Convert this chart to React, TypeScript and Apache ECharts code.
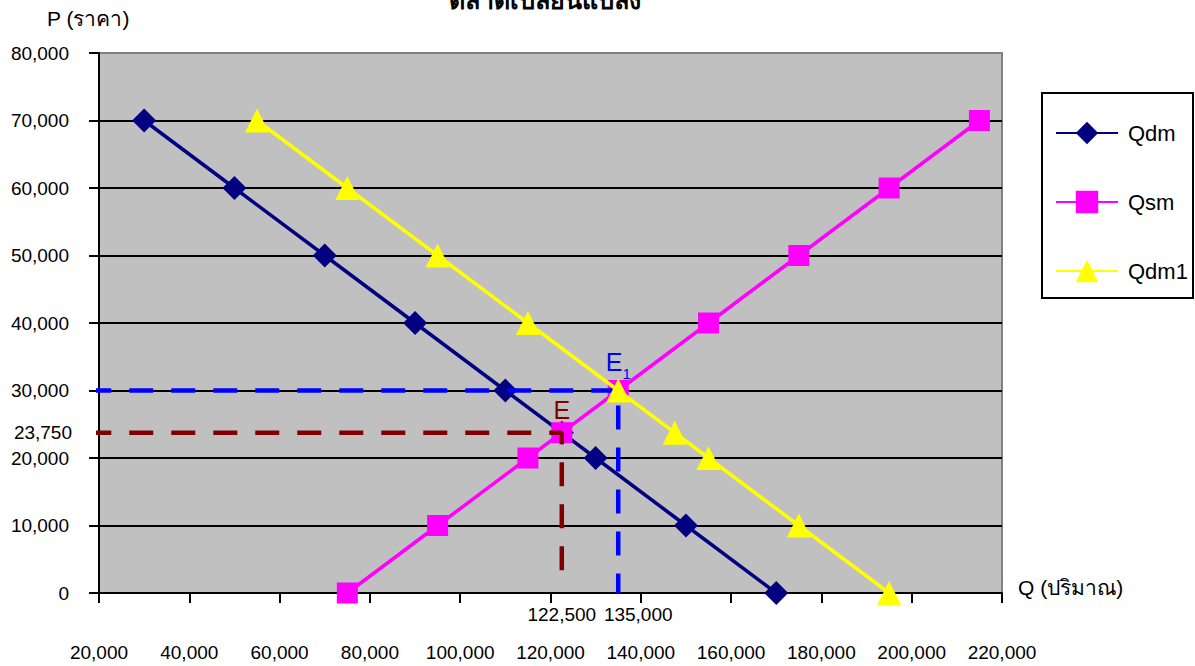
import React, { useEffect, useRef } from "react";
import * as echarts from "echarts";

// Price levels (P) shared by all three schedules
const prices = [70000, 60000, 50000, 40000, 30000, 23750, 20000, 10000, 0];
// Quantities (Q) for each series at those price levels
const qdm = [30000, 50000, 70000, 90000, 110000, 122500, 130000, 150000, 170000];
const qsm = [215000, 195000, 175000, 155000, 135000, 122500, 115000, 95000, 75000];
const qdm1 = [55000, 75000, 95000, 115000, 135000, 147500, 155000, 175000, 195000];

// Equilibria
const eqNames = ["E", "E1"];
const eqQ = [122500, 135000];
const eqP = [23750, 30000];

// Guide lines start just left of the value axis (in data space)
const guideStartQ = 17400;
const redGuideEndP = 1200;

const xMin = 20000;
const xMax = 220000;
const xStep = 20000;
const yMin = 0;
const yMax = 80000;
const yStep = 10000;

const titleText = "ตลาดเปลี่ยนแปลง";
const yName = "P (ราคา)";
const xName = "Q (ปริมาณ)";

const FONT = "'Liberation Sans', Arial, 'Noto Sans', 'DejaVu Sans', sans-serif";
const fmt = (v: number) => v.toLocaleString("en-US");

export default function App() {
  const ref = useRef<HTMLDivElement>(null);

  useEffect(() => {
    if (!ref.current) return;
    const chart = echarts.init(ref.current, null, { renderer: "svg" });

    const pair = (qs: number[]) => qs.map((q, i) => [q, prices[i]]);
    const splitColors: string[] = [];
    const nLines = Math.round((yMax - yMin) / yStep) + 1;
    for (let i = 0; i < nLines; i++) splitColors.push(i === nLines - 1 ? "#808080" : "#000000");

    const labelStyle = { fontSize: 19, color: "#000", fontFamily: FONT };

    const option: any = {
      animation: false,
      textStyle: { fontFamily: FONT },
      grid: {
        left: 99,
        right: 193,
        top: 53,
        bottom: 73,
        show: true,
        backgroundColor: "#C0C0C0",
        borderColor: "#808080",
        borderWidth: 2,
      },
      legend: {
        data: ["Qdm", "Qsm", "Qdm1"],
        orient: "vertical",
        left: 1055,
        top: 119,
        padding: 0,
        itemWidth: 62,
        itemHeight: 28,
        itemGap: 41,
        textStyle: { fontSize: 22, color: "#000", fontFamily: FONT, padding: [0, 0, 0, 5], lineHeight: 28 },
      },
      xAxis: {
        type: "value",
        min: xMin,
        max: xMax,
        interval: xStep,
        axisLine: { show: true, onZero: false, lineStyle: { color: "#000", width: 2 } },
        axisTick: { show: true, length: 10, lineStyle: { color: "#000", width: 2 } },
        axisLabel: { margin: 50, ...labelStyle, formatter: fmt },
        splitLine: { show: false },
      },
      yAxis: {
        type: "value",
        min: yMin,
        max: yMax,
        interval: yStep,
        axisLine: { show: true, lineStyle: { color: "#000", width: 2 } },
        axisTick: { show: true, length: 10, lineStyle: { color: "#000", width: 2 } },
        axisLabel: { margin: 30, ...labelStyle, formatter: fmt },
        splitLine: { show: true, lineStyle: { color: splitColors, width: 2 } },
      },
      graphic: [
        {
          type: "rect",
          shape: { x: 1042, y: 93, width: 151, height: 205 },
          style: { fill: "#fff", stroke: "#000", lineWidth: 2 },
          z: 1,
        },
        {
          type: "text",
          x: 545,
          y: 12,
          style: {
            text: titleText,
            fontSize: 25,
            fontWeight: "bold",
            fill: "#000",
            align: "center",
            verticalAlign: "bottom",
            fontFamily: FONT,
          },
        },
        {
          type: "text",
          x: 47,
          y: 18,
          style: { text: yName, fontSize: 21, fill: "#000", verticalAlign: "middle", fontFamily: FONT },
        },
        {
          type: "text",
          x: 1018,
          y: 587,
          style: { text: xName, fontSize: 21, fill: "#000", verticalAlign: "middle", fontFamily: FONT },
        },
      ],
      series: [
        {
          name: "Qdm",
          type: "line",
          data: pair(qdm),
          symbol: "diamond",
          symbolSize: 24,
          lineStyle: { color: "#000080", width: 3.5 },
          itemStyle: { color: "#000080" },
          z: 2,
        },
        {
          name: "Qsm",
          type: "line",
          data: pair(qsm),
          symbol: "rect",
          symbolSize: 21,
          lineStyle: { color: "#FF00FF", width: 3.5 },
          itemStyle: { color: "#FF00FF" },
          z: 3,
        },
        {
          name: "guideE1",
          type: "line",
          data: [
            [guideStartQ, eqP[1]],
            [eqQ[1], eqP[1]],
            [eqQ[1], yMin],
          ],
          symbol: "none",
          clip: false,
          lineStyle: { color: "#0000FF", width: 4.5, type: [24, 18] },
          z: 4,
          silent: true,
        },
        {
          name: "guideE",
          type: "line",
          data: [
            [guideStartQ, eqP[0]],
            [eqQ[0], eqP[0]],
            [eqQ[0], redGuideEndP],
          ],
          symbol: "none",
          clip: false,
          lineStyle: { color: "#800000", width: 4.5, type: [24, 18] },
          z: 4,
          silent: true,
        },
        {
          name: "Qdm1",
          type: "line",
          data: pair(qdm1),
          symbol: "triangle",
          symbolSize: 24,
          lineStyle: { color: "#FFFF00", width: 3.5 },
          itemStyle: { color: "#FFFF00" },
          z: 5,
        },
        {
          name: "eqLabels",
          type: "scatter",
          symbolSize: 0,
          clip: false,
          silent: true,
          itemStyle: { opacity: 1 },
          z: 6,
          data: [
            {
              value: [eqQ[0], eqP[0]],
              label: {
                show: true,
                position: "top",
                distance: 10,
                formatter: eqNames[0],
                fontSize: 25,
                color: "#800000",
                fontFamily: FONT,
              },
            },
            {
              value: [eqQ[1], eqP[1]],
              label: {
                show: true,
                position: "top",
                distance: 16,
                formatter: "{a|E}{s|1}",
                fontFamily: FONT,
                rich: {
                  a: { fontSize: 25, color: "#0000FF", fontFamily: FONT, lineHeight: 26 },
                  s: { fontSize: 15, color: "#0000FF", fontFamily: FONT, verticalAlign: "bottom", lineHeight: 14, padding: [0, 0, -6, 0] },
                },
              },
            },
          ],
        },
        {
          name: "axisExtra",
          type: "scatter",
          symbolSize: 0,
          clip: false,
          silent: true,
          itemStyle: { opacity: 1 },
          z: 6,
          data: [
            {
              value: [eqQ[0], yMin],
              label: { show: true, position: "bottom", distance: 12, formatter: fmt(eqQ[0]), ...labelStyle },
            },
            {
              value: [eqQ[1], yMin],
              label: { show: true, position: "bottom", distance: 12, offset: [20, 0], formatter: fmt(eqQ[1]), ...labelStyle },
            },
            {
              value: [xMin, eqP[0]],
              label: { show: true, position: "left", distance: 27, formatter: fmt(eqP[0]), ...labelStyle },
            },
          ],
        },
      ],
    };

    chart.setOption(option);
    return () => chart.dispose();
  }, []);

  return (
    <div
      ref={ref}
      style={{ position: "fixed", left: 0, top: 0, width: 1195, height: 666, background: "#fff" }}
    />
  );
}
